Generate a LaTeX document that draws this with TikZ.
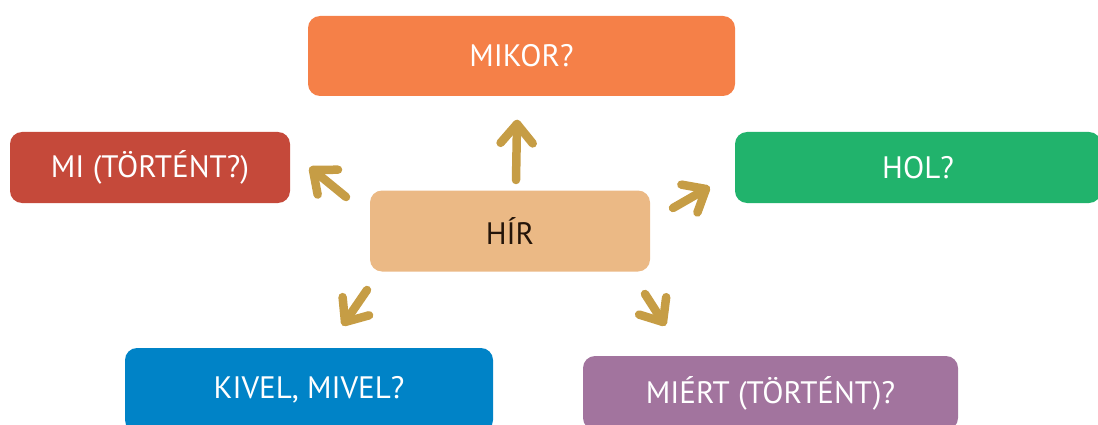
\documentclass[tikz,border=0pt]{standalone}
\usepackage{fontspec}
\setmainfont{PT Sans}
\usetikzlibrary{calc}
\definecolor{cOrange}{HTML}{F58048}
\definecolor{cRed}{HTML}{C5493A}
\definecolor{cGreen}{HTML}{21B36C}
\definecolor{cTan}{HTML}{EBB985}
\definecolor{cBlue}{HTML}{0083C7}
\definecolor{cPurple}{HTML}{A2749E}
\definecolor{cGold}{HTML}{C69D45}
\definecolor{cDark}{HTML}{24150A}
\tikzset{
  box/.style={rounded corners=12pt, inner sep=0pt, text=white, font=\fontsize{31}{34}\selectfont},
  arr/.style={draw=cGold, line width=8.5pt, line cap=round, line join=round},
}
\newcommand\goldarrow[2]{%
  \draw[arr] (#1) -- (#2);
  \draw[arr] ($(#2)!25pt!40:(#1)$) -- (#2) -- ($(#2)!25pt!-40:(#1)$);
}
\begin{document}
\begin{tikzpicture}[x=1pt,y=-1pt]
\useasboundingbox (0,0) rectangle (1098,425);
\clip (0,0) rectangle (1098,425);
\node[box, fill=cOrange, minimum width=427pt, minimum height=80pt] (mikor) at (521.5,56) {MIKOR?};
\node[box, fill=cRed, minimum width=280pt, minimum height=71pt] (mi) at (150,167.5) {MI (TÖRTÉNT?)};
\node[box, fill=cGreen, minimum width=366pt, minimum height=71pt] (hol) at (918,167.5) {HOL?};
\node[box, fill=cTan, text=cDark, minimum width=280pt, minimum height=81pt] (hir) at (510,231) {HÍR};
\node[box, fill=cBlue, minimum width=368pt, minimum height=84pt] (kivel) at (309,390) {KIVEL, MIVEL?};
\node[box, fill=cPurple, minimum width=375pt, minimum height=74pt] (miert) at (770.5,393) {MIÉRT (TÖRTÉNT)?};
\coordinate (a1s) at (516,180); \coordinate (a1e) at (517,124);
\coordinate (a2s) at (346,197); \coordinate (a2e) at (313,170);
\coordinate (a3s) at (673,208); \coordinate (a3e) at (706,189);
\coordinate (a4s) at (367,290); \coordinate (a4e) at (345,322);
\coordinate (a5s) at (645,294); \coordinate (a5e) at (663,322);
\goldarrow{a1s}{a1e}
\goldarrow{a2s}{a2e}
\goldarrow{a3s}{a3e}
\goldarrow{a4s}{a4e}
\goldarrow{a5s}{a5e}
\end{tikzpicture}
\end{document}
